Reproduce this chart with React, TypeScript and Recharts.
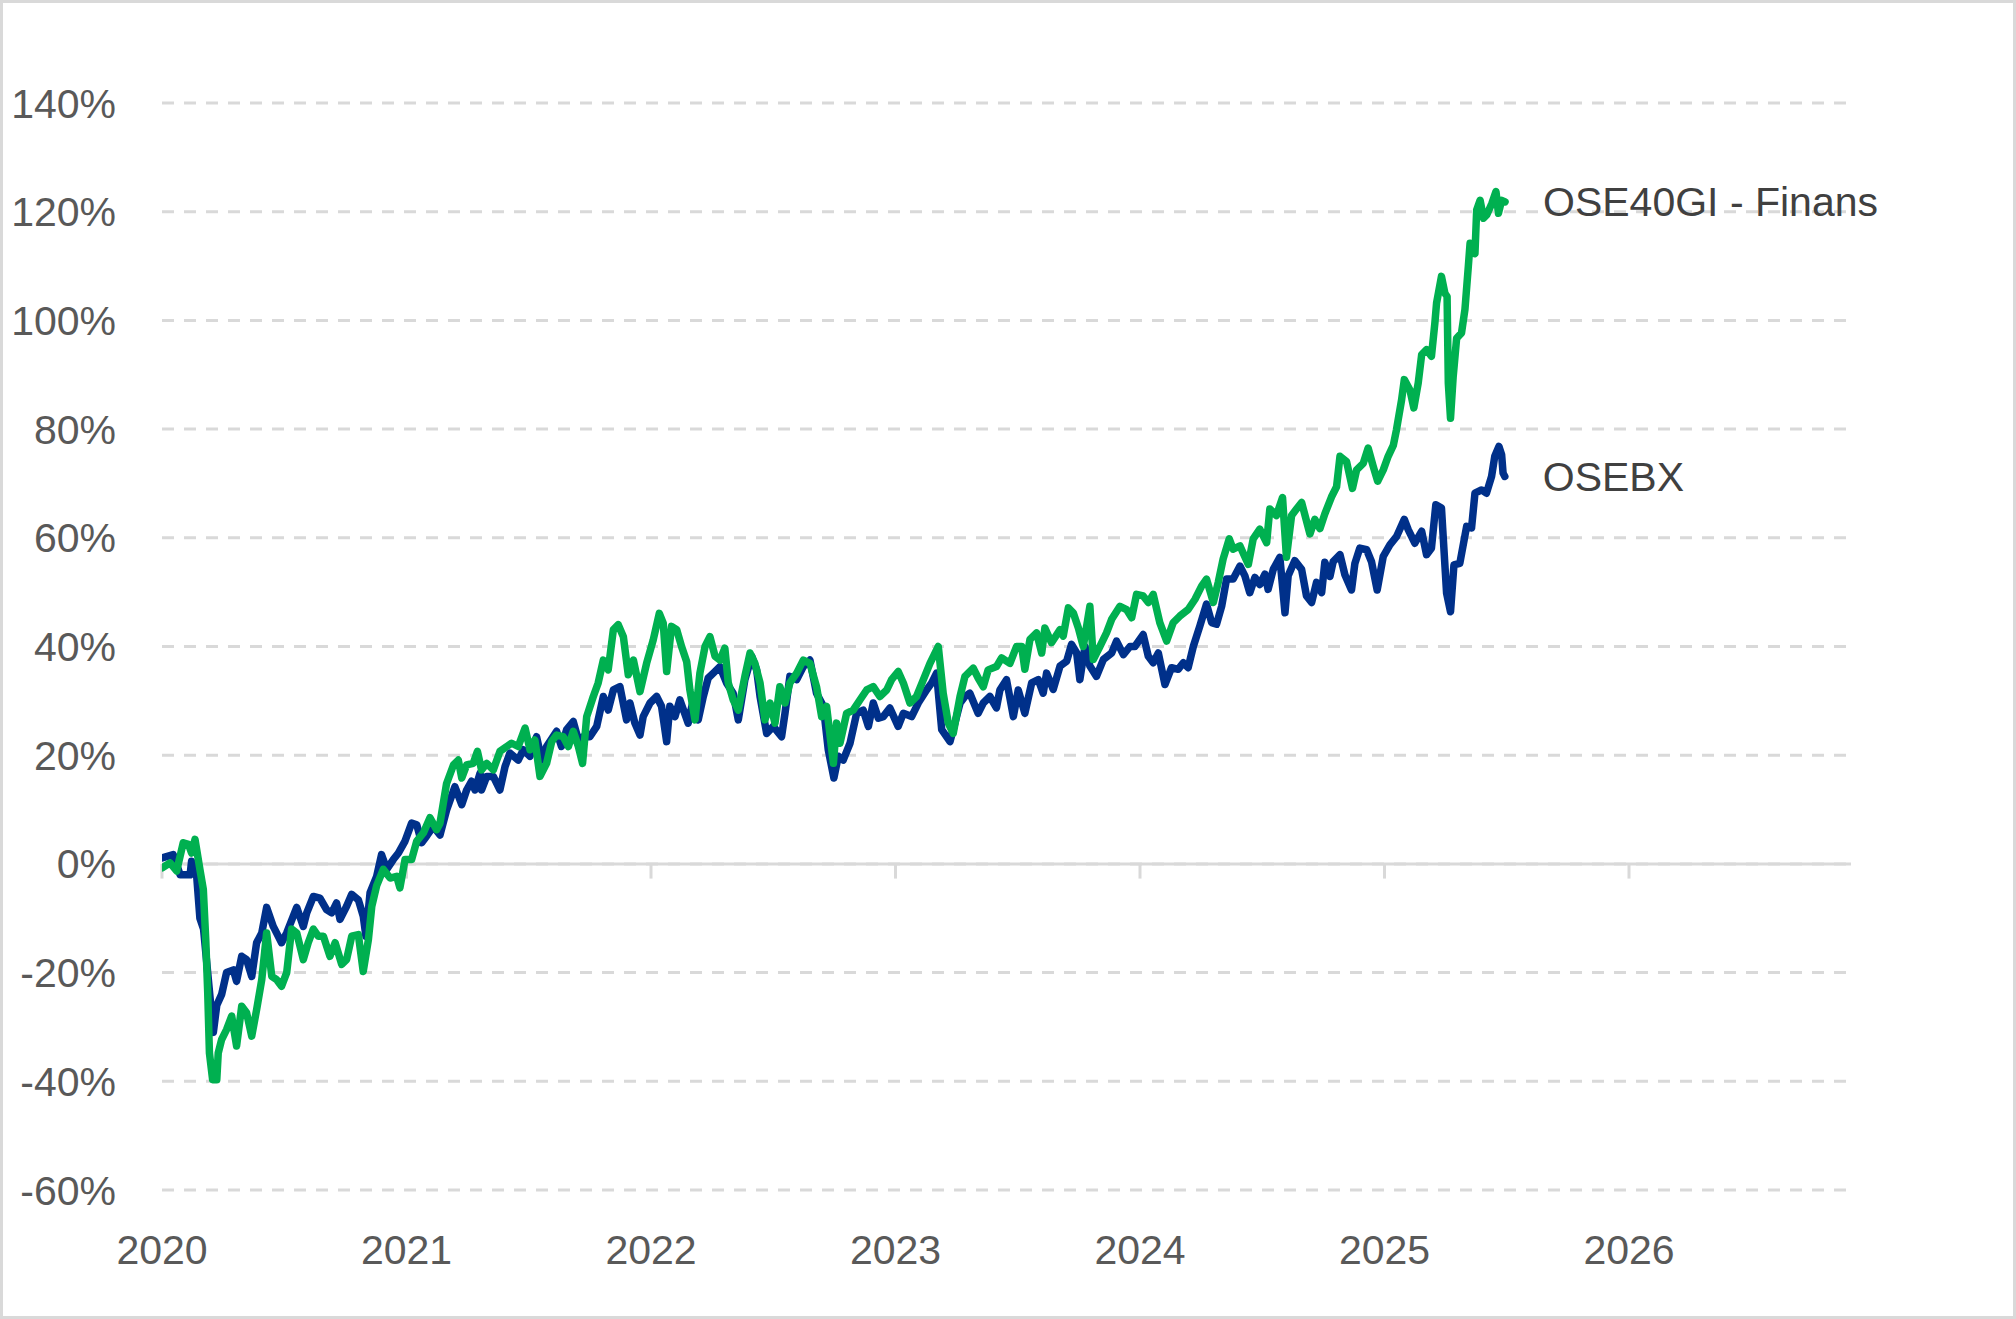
import { CartesianGrid, Line, LineChart, ReferenceLine, XAxis, YAxis } from "recharts";

// x = decimal year, y = cumulative return in %
const yearTicks = [2020, 2021, 2022, 2023, 2024, 2025, 2026];
const pctTicks = [-60, -40, -20, 0, 20, 40, 60, 80, 100, 120, 140];

const osebx: [number, number][] = [
  [2020.001, 1.1], [2020.046, 1.7], [2020.074, -2], [2020.115, -2], [2020.121, 0.5], [2020.142, -2.3],
  [2020.155, -10], [2020.17, -12], [2020.189, -21], [2020.21, -31], [2020.224, -26], [2020.244, -24],
  [2020.264, -20], [2020.292, -19.5], [2020.305, -21.6], [2020.326, -17], [2020.346, -17.6], [2020.367, -20.7],
  [2020.387, -14.5], [2020.408, -12.7], [2020.428, -8], [2020.455, -11.5], [2020.489, -14.5], [2020.51, -12.7],
  [2020.537, -9.6], [2020.551, -8], [2020.578, -11.5], [2020.592, -9], [2020.619, -6], [2020.646, -6.3],
  [2020.673, -8.4], [2020.694, -9], [2020.714, -7.2], [2020.728, -10.2], [2020.755, -7.8], [2020.776, -5.6],
  [2020.803, -6.6], [2020.823, -9.6], [2020.834, -13.3], [2020.851, -5.3], [2020.878, -2.3], [2020.898, 1.7],
  [2020.919, -1], [2020.946, 0.8], [2020.967, 2], [2020.994, 4.2],
  [2021.021, 7.5], [2021.042, 7.2], [2021.062, 3.9], [2021.082, 5.1], [2021.11, 6.9], [2021.137, 5.3],
  [2021.164, 9.9], [2021.198, 14.2], [2021.226, 10.9], [2021.246, 13.6], [2021.266, 15.2], [2021.28, 13.6],
  [2021.301, 16.7], [2021.307, 13.6], [2021.328, 16.1], [2021.355, 16.1], [2021.382, 13.6], [2021.403, 17.9],
  [2021.423, 20.4], [2021.457, 19.1], [2021.478, 21], [2021.505, 19.8], [2021.532, 23.4], [2021.553, 19.1],
  [2021.573, 21.6], [2021.614, 24.4], [2021.634, 21.6], [2021.655, 24.7], [2021.682, 26.2], [2021.703, 22.8],
  [2021.723, 23.4], [2021.75, 23.4], [2021.778, 25.3], [2021.805, 30.8], [2021.825, 28.3], [2021.846, 32],
  [2021.873, 32.6], [2021.9, 26.5], [2021.914, 29.6], [2021.934, 25.9], [2021.955, 23.7], [2021.968, 27.1],
  [2021.996, 29.6],
  [2022.023, 30.8], [2022.043, 29], [2022.064, 22.5], [2022.077, 29], [2022.098, 27.1], [2022.118, 30.2],
  [2022.152, 25.9], [2022.173, 30.2], [2022.193, 26.5], [2022.214, 30.8], [2022.234, 34.2], [2022.255, 35.1],
  [2022.282, 36.3], [2022.309, 33.3], [2022.336, 31.4], [2022.357, 26.5], [2022.384, 33.9], [2022.412, 38.2],
  [2022.432, 35.7], [2022.446, 30.8], [2022.473, 24], [2022.5, 25.3], [2022.534, 23.4], [2022.548, 27.7],
  [2022.568, 34.5], [2022.596, 33.9], [2022.623, 36.3], [2022.65, 37.5], [2022.677, 31.4], [2022.705, 29],
  [2022.725, 21], [2022.748, 15.8], [2022.766, 19.8], [2022.786, 19.1], [2022.814, 22.2], [2022.841, 27.7],
  [2022.868, 28.3], [2022.889, 25.3], [2022.909, 29.6], [2022.93, 26.8], [2022.95, 27.1], [2022.977, 28.7],
  [2023.011, 25.3], [2023.032, 27.7], [2023.066, 27.1], [2023.093, 29.6], [2023.127, 32], [2023.148, 33.3],
  [2023.168, 35.1], [2023.189, 24.7], [2023.223, 22.5], [2023.243, 25.9], [2023.264, 29.6], [2023.284, 30.8],
  [2023.304, 31.4], [2023.338, 27.7], [2023.359, 29.6], [2023.386, 30.8], [2023.413, 28.7], [2023.427, 32],
  [2023.454, 33.9], [2023.482, 27.1], [2023.502, 32], [2023.529, 27.7], [2023.557, 33.3], [2023.584, 33.9],
  [2023.604, 31.4], [2023.618, 35.1], [2023.645, 32.1], [2023.673, 36.4], [2023.7, 37.3], [2023.72, 40.4],
  [2023.741, 38.8], [2023.754, 33.9], [2023.775, 40], [2023.795, 36.4], [2023.822, 34.5], [2023.85, 37.6],
  [2023.884, 38.8], [2023.904, 41], [2023.932, 38.5], [2023.959, 40], [2023.979, 40],
  [2024.013, 42.2], [2024.034, 38.2], [2024.054, 37], [2024.075, 38.8], [2024.102, 33], [2024.129, 36.1],
  [2024.156, 35.8], [2024.177, 37], [2024.197, 36.1], [2024.218, 40], [2024.245, 43.8], [2024.272, 47.8],
  [2024.293, 44.4], [2024.313, 44.1], [2024.334, 47.4], [2024.354, 52.4], [2024.381, 52.4], [2024.409, 54.8],
  [2024.429, 53], [2024.449, 49.9], [2024.47, 52.7], [2024.49, 51.4], [2024.511, 53.3], [2024.524, 50.5],
  [2024.545, 54.2], [2024.572, 56.4], [2024.593, 46.2], [2024.606, 53], [2024.633, 55.8], [2024.661, 54.2],
  [2024.681, 49.3], [2024.702, 48.1], [2024.722, 51.8], [2024.743, 49.9], [2024.756, 55.5], [2024.777, 52.9],
  [2024.79, 55.6], [2024.818, 56.9], [2024.838, 53.2], [2024.865, 50.4], [2024.879, 55.3], [2024.899, 58.1],
  [2024.927, 57.8], [2024.947, 55.6], [2024.97, 50.4], [2024.995, 56.6],
  [2025.022, 58.7], [2025.049, 60.2], [2025.081, 63.4], [2025.097, 61.5], [2025.124, 59], [2025.152, 61.2],
  [2025.172, 56.9], [2025.192, 58.1], [2025.21, 66.1], [2025.233, 65.5], [2025.254, 49.8], [2025.27, 46.4],
  [2025.284, 55], [2025.308, 55.3], [2025.336, 62.1], [2025.356, 61.8], [2025.37, 68.2], [2025.397, 68.8],
  [2025.417, 68.2], [2025.438, 71.3], [2025.451, 75], [2025.468, 76.8], [2025.479, 75.3], [2025.485, 71.9],
  [2025.492, 71.3],
];

const finans: [number, number][] = [
  [2020.001, -0.7], [2020.033, 0.2], [2020.06, -1.3], [2020.087, 3.9], [2020.108, 3.6], [2020.121, 2],
  [2020.135, 4.5], [2020.155, -1], [2020.169, -4.7], [2020.179, -14], [2020.187, -23.7], [2020.194, -34.8],
  [2020.207, -39.7], [2020.224, -39.7], [2020.23, -34.8], [2020.244, -32.3], [2020.264, -30.5], [2020.285, -28],
  [2020.305, -33.5], [2020.326, -26.2], [2020.346, -27.4], [2020.367, -31.7], [2020.387, -26.8], [2020.408, -21.3],
  [2020.428, -12.7], [2020.449, -20.7], [2020.469, -21.3], [2020.489, -22.5], [2020.51, -20], [2020.53, -12],
  [2020.551, -12.7], [2020.578, -17.6], [2020.598, -14.5], [2020.619, -12], [2020.639, -13.3], [2020.66, -13.3],
  [2020.687, -17], [2020.708, -14.5], [2020.735, -18.5], [2020.755, -17.6], [2020.776, -13.3], [2020.803, -13],
  [2020.823, -19.8], [2020.844, -14], [2020.858, -7.8], [2020.878, -4], [2020.905, -1], [2020.933, -2.6],
  [2020.96, -2.3], [2020.973, -4.4], [2020.994, 0.8],
  [2021.021, 0.8], [2021.042, 4.2], [2021.069, 5.7], [2021.096, 8.5], [2021.123, 6.3], [2021.137, 7.5],
  [2021.164, 14.8], [2021.192, 18.2], [2021.212, 19.1], [2021.226, 15.8], [2021.246, 18.2], [2021.273, 18.5],
  [2021.29, 20.7], [2021.307, 17.3], [2021.328, 18.5], [2021.355, 17.3], [2021.382, 20.7], [2021.41, 21.6],
  [2021.43, 22.2], [2021.457, 21.6], [2021.485, 25], [2021.505, 21], [2021.525, 22.8], [2021.546, 16.1],
  [2021.573, 18.5], [2021.594, 22.5], [2021.614, 23.7], [2021.641, 23.4], [2021.662, 21.6], [2021.682, 24.4],
  [2021.703, 21.6], [2021.72, 18.5], [2021.737, 27.1], [2021.764, 30.8], [2021.784, 33.3], [2021.805, 37.5],
  [2021.825, 35.7], [2021.846, 43.1], [2021.866, 44], [2021.887, 41.8], [2021.907, 34.8], [2021.928, 37.5],
  [2021.955, 31.7], [2021.982, 36.9],
  [2022.009, 41.2], [2022.034, 46.1], [2022.05, 44.3], [2022.064, 35.4], [2022.084, 43.7], [2022.105, 43.1],
  [2022.125, 40], [2022.146, 37.2], [2022.159, 32], [2022.18, 26.5], [2022.2, 35.1], [2022.221, 40],
  [2022.241, 41.8], [2022.262, 38.2], [2022.282, 37.5], [2022.302, 39.7], [2022.316, 33.3], [2022.336, 30.2],
  [2022.357, 28.3], [2022.384, 34.5], [2022.405, 38.8], [2022.425, 36.9], [2022.446, 33.3], [2022.466, 26.5],
  [2022.487, 29.6], [2022.507, 25.9], [2022.527, 32.6], [2022.548, 29.6], [2022.568, 33.3], [2022.596, 35.1],
  [2022.623, 37.5], [2022.65, 36.9], [2022.677, 32.6], [2022.698, 27.1], [2022.718, 29], [2022.746, 18.5],
  [2022.759, 25.9], [2022.773, 22.2], [2022.8, 27.7], [2022.827, 28.3], [2022.855, 30.2], [2022.882, 32],
  [2022.909, 32.6], [2022.936, 30.8], [2022.964, 32], [2022.984, 33.9],
  [2023.011, 35.4], [2023.032, 33.3], [2023.059, 29.6], [2023.086, 30.8], [2023.114, 33.9], [2023.141, 36.9],
  [2023.175, 40], [2023.195, 31.4], [2023.216, 25.9], [2023.236, 24], [2023.264, 30.8], [2023.284, 34.5],
  [2023.318, 36], [2023.338, 34.2], [2023.359, 32.6], [2023.379, 35.7], [2023.413, 36.3], [2023.434, 37.9],
  [2023.468, 36.9], [2023.495, 40], [2023.516, 40], [2023.529, 35.8], [2023.55, 41.3], [2023.577, 42.5],
  [2023.598, 38.8], [2023.611, 43.4], [2023.638, 40.7], [2023.673, 43.1], [2023.686, 41.9], [2023.707, 47.1],
  [2023.727, 46.2], [2023.748, 43.4], [2023.768, 40], [2023.795, 47.4], [2023.809, 37.6], [2023.836, 40],
  [2023.863, 42.5], [2023.884, 45], [2023.918, 47.4], [2023.945, 46.8], [2023.966, 45.3], [2023.986, 49.6],
  [2024.013, 49.3], [2024.034, 48.1], [2024.054, 49.6], [2024.081, 44.4], [2024.109, 41], [2024.136, 44.4],
  [2024.163, 45.6], [2024.197, 46.8], [2024.225, 48.7], [2024.252, 51.1], [2024.272, 52.4], [2024.3, 48.1],
  [2024.32, 51.8], [2024.34, 56.1], [2024.365, 59.8], [2024.381, 57.9], [2024.409, 58.5], [2024.443, 55.1],
  [2024.463, 59.8], [2024.49, 61.6], [2024.518, 59.1], [2024.531, 65.3], [2024.558, 64.1], [2024.583, 67.4],
  [2024.599, 56.4], [2024.62, 64.1], [2024.64, 65.3], [2024.661, 66.5], [2024.695, 60.7], [2024.715, 63.4],
  [2024.736, 61.7], [2024.756, 64.4], [2024.783, 67.5], [2024.804, 69.4], [2024.818, 75], [2024.845, 74],
  [2024.869, 69.1], [2024.886, 72.5], [2024.913, 73.7], [2024.933, 76.5], [2024.954, 73.1], [2024.972, 70.4],
  [2024.995, 72.5],
  [2025.015, 75], [2025.036, 77], [2025.049, 79.9], [2025.07, 85.4], [2025.081, 89.1], [2025.104, 87.2],
  [2025.12, 83.9], [2025.138, 88.5], [2025.152, 93.7], [2025.172, 94.6], [2025.192, 93.4], [2025.206, 99.5],
  [2025.213, 103.2], [2025.233, 108.1], [2025.247, 105], [2025.256, 104.4], [2025.261, 88.5], [2025.27, 82],
  [2025.281, 89.7], [2025.295, 96.7], [2025.315, 97.7], [2025.329, 102], [2025.343, 110], [2025.35, 114.2],
  [2025.37, 112.3], [2025.377, 120.3], [2025.391, 122.1], [2025.405, 118.8], [2025.418, 119.4], [2025.439, 121.5],
  [2025.456, 123.7], [2025.466, 119.7], [2025.479, 122.1], [2025.493, 121.8],
];

const W = 2016;
const H = 1319;
const FONT = "'Liberation Sans', Arial, Helvetica, sans-serif";
const GRID = "#D9D9D9";
const tickStyle = { fill: "#595959", fontSize: 41, fontFamily: FONT };

const pct = (v: number) => `${v}%`;
const toRows = (pts: [number, number][]) => pts.map(([t, v]) => ({ t, v }));

// only the last point of a series gets its name next to it
function endLabel(name: string, lastIndex: number) {
  return (props: any) => {
    if (props.index !== lastIndex) return null;
    return (
      <text x={props.x + 38} y={props.y} dy="0.35em" fill="#404040" fontSize={41} fontFamily={FONT}>
        {name}
      </text>
    );
  };
}

export default function App() {
  return (
    <div style={{ position: "absolute", left: 0, top: 0, width: W, height: H, background: "#fff" }}>
      <LineChart width={W} height={H} margin={{ top: 103, right: 0, bottom: 0, left: 0 }}>
        <CartesianGrid
          yAxisId="left"
          vertical={false}
          stroke={GRID}
          strokeWidth={3}
          strokeDasharray="12 10"
        />
        <XAxis
          type="number"
          dataKey="t"
          domain={[2020, 2026.908]}
          ticks={yearTicks}
          interval={0}
          allowDataOverflow
          axisLine={false}
          tickLine={false}
          tickSize={0}
          tickMargin={45}
          height={129}
          tick={tickStyle}
        />
        <YAxis
          yAxisId="left"
          domain={[-60, 140]}
          ticks={pctTicks}
          interval={0}
          width={162}
          axisLine={false}
          tickLine={false}
          tickSize={0}
          tickMargin={46}
          tick={tickStyle}
          tickFormatter={pct}
        />
        <YAxis
          yAxisId="right"
          orientation="right"
          domain={[-60, 140]}
          ticks={pctTicks}
          interval={0}
          width={165}
          axisLine={false}
          tickLine={false}
          tickSize={0}
          tickMargin={48}
          tick={tickStyle}
          tickFormatter={pct}
        />
        <ReferenceLine yAxisId="left" y={0} stroke={GRID} strokeWidth={3} />
        {yearTicks.map((yr) => (
          <ReferenceLine
            key={yr}
            yAxisId="left"
            segment={[{ x: yr, y: 0 }, { x: yr, y: -2.7 }]}
            stroke={GRID}
            strokeWidth={3}
            ifOverflow="visible"
          />
        ))}
        <Line
          yAxisId="left"
          data={toRows(osebx)}
          dataKey="v"
          type="linear"
          stroke="#00308A"
          strokeWidth={7.5}
          strokeLinejoin="round"
          strokeLinecap="round"
          dot={false}
          isAnimationActive={false}
          label={endLabel("OSEBX", osebx.length - 1)}
        />
        <Line
          yAxisId="left"
          data={toRows(finans)}
          dataKey="v"
          type="linear"
          stroke="#00B050"
          strokeWidth={7.5}
          strokeLinejoin="round"
          strokeLinecap="round"
          dot={false}
          isAnimationActive={false}
          label={endLabel("OSE40GI - Finans", finans.length - 1)}
        />
      </LineChart>
      <div
        style={{
          position: "absolute",
          inset: 0,
          border: `3px solid ${GRID}`,
          boxSizing: "border-box",
          pointerEvents: "none",
        }}
      />
    </div>
  );
}
